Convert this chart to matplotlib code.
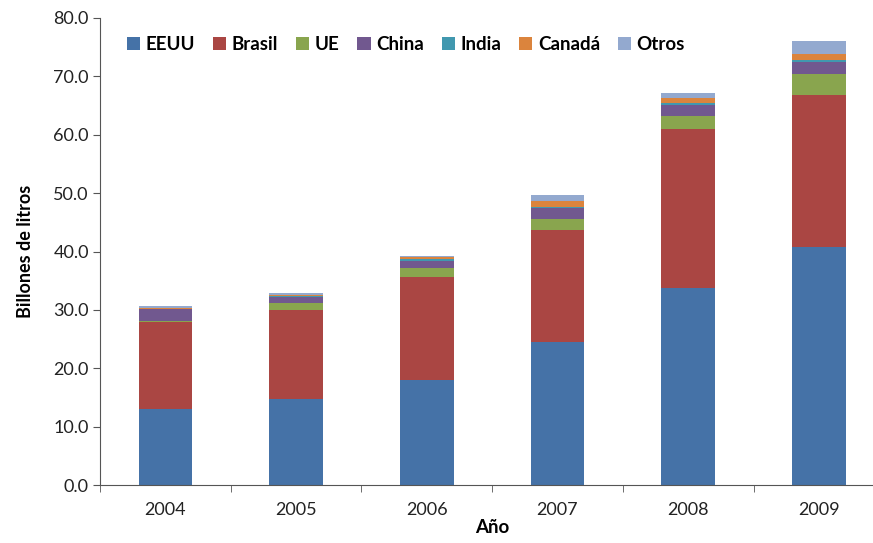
import numpy as np
import matplotlib.pyplot as plt
from matplotlib.ticker import FixedLocator

# Data (billones de litros)
years = ['2004', '2005', '2006', '2007', '2008', '2009']
eeuu = [13.0, 14.7, 18.0, 24.5, 33.8, 40.7]
brasil = [14.9, 15.2, 17.6, 19.1, 27.1, 26.05]
ue = [0.2, 1.25, 1.5, 1.95, 2.35, 3.65]
china = [2.0, 1.0, 1.2, 1.9, 1.8, 2.1]
india = [0.05, 0.25, 0.45, 0.23, 0.4, 0.24]
canada = [0.2, 0.2, 0.24, 0.9, 0.9, 1.03]
otros = [0.35, 0.3, 0.22, 1.14, 0.8, 2.28]

series = [
    ('EEUU', eeuu, '#4572A7'),
    ('Brasil', brasil, '#AA4643'),
    ('UE', ue, '#89A54E'),
    ('China', china, '#71588F'),
    ('India', india, '#4198AF'),
    ('Canadá', canada, '#DB843D'),
    ('Otros', otros, '#93A9CF'),
]

plt.rcParams['font.family'] = ['Lato', 'DejaVu Sans']

fig = plt.figure(figsize=(8.73, 5.43), dpi=100)
# plot area: left 100px, bottom 485px, top 18px, category spacing ~130.7px
ax = fig.add_axes([100 / 873, (543 - 485) / 543, 6 * 130.7 / 873, 467 / 543])

x = np.arange(len(years))
bottom = np.zeros(len(years))
for name, vals, color in series:
    ax.bar(x, vals, width=0.41, bottom=bottom, color=color, label=name)
    bottom += np.array(vals)

ax.set_xlim(-0.5, 5.5)
ax.set_ylim(0, 80)
ax.set_yticks(np.arange(0, 81, 10))
ax.set_yticklabels([f'{v:.1f}' for v in np.arange(0, 81, 10)])
ax.set_xticks(x)
ax.set_xticklabels(years)
ax.xaxis.set_minor_locator(FixedLocator(np.arange(-0.5, 5.6, 1)))
ax.tick_params(axis='x', which='major', length=0, labelsize=13, pad=12, colors='#222222')
ax.tick_params(axis='x', which='minor', length=5, direction='out', color='#555555')
ax.tick_params(axis='y', length=5, direction='out', labelsize=13, pad=3,
               color='#555555', labelcolor='#222222')

for side in ['top', 'right']:
    ax.spines[side].set_visible(False)
for side in ['left', 'bottom']:
    ax.spines[side].set_color('#555555')

ax.set_ylabel('Billones de litros', fontsize=13, fontweight='bold', labelpad=14)
ax.set_xlabel('Año', fontsize=13.5, fontweight='bold', labelpad=1)

leg = ax.legend(loc='upper left', bbox_to_anchor=(0.025, 0.977), ncol=7, frameon=False,
                prop={'size': 13.5, 'weight': 'bold'}, handlelength=0.7,
                handleheight=0.7, handletextpad=0.3, columnspacing=0.95,
                borderaxespad=0)

fig.savefig('out.png', dpi=100)
